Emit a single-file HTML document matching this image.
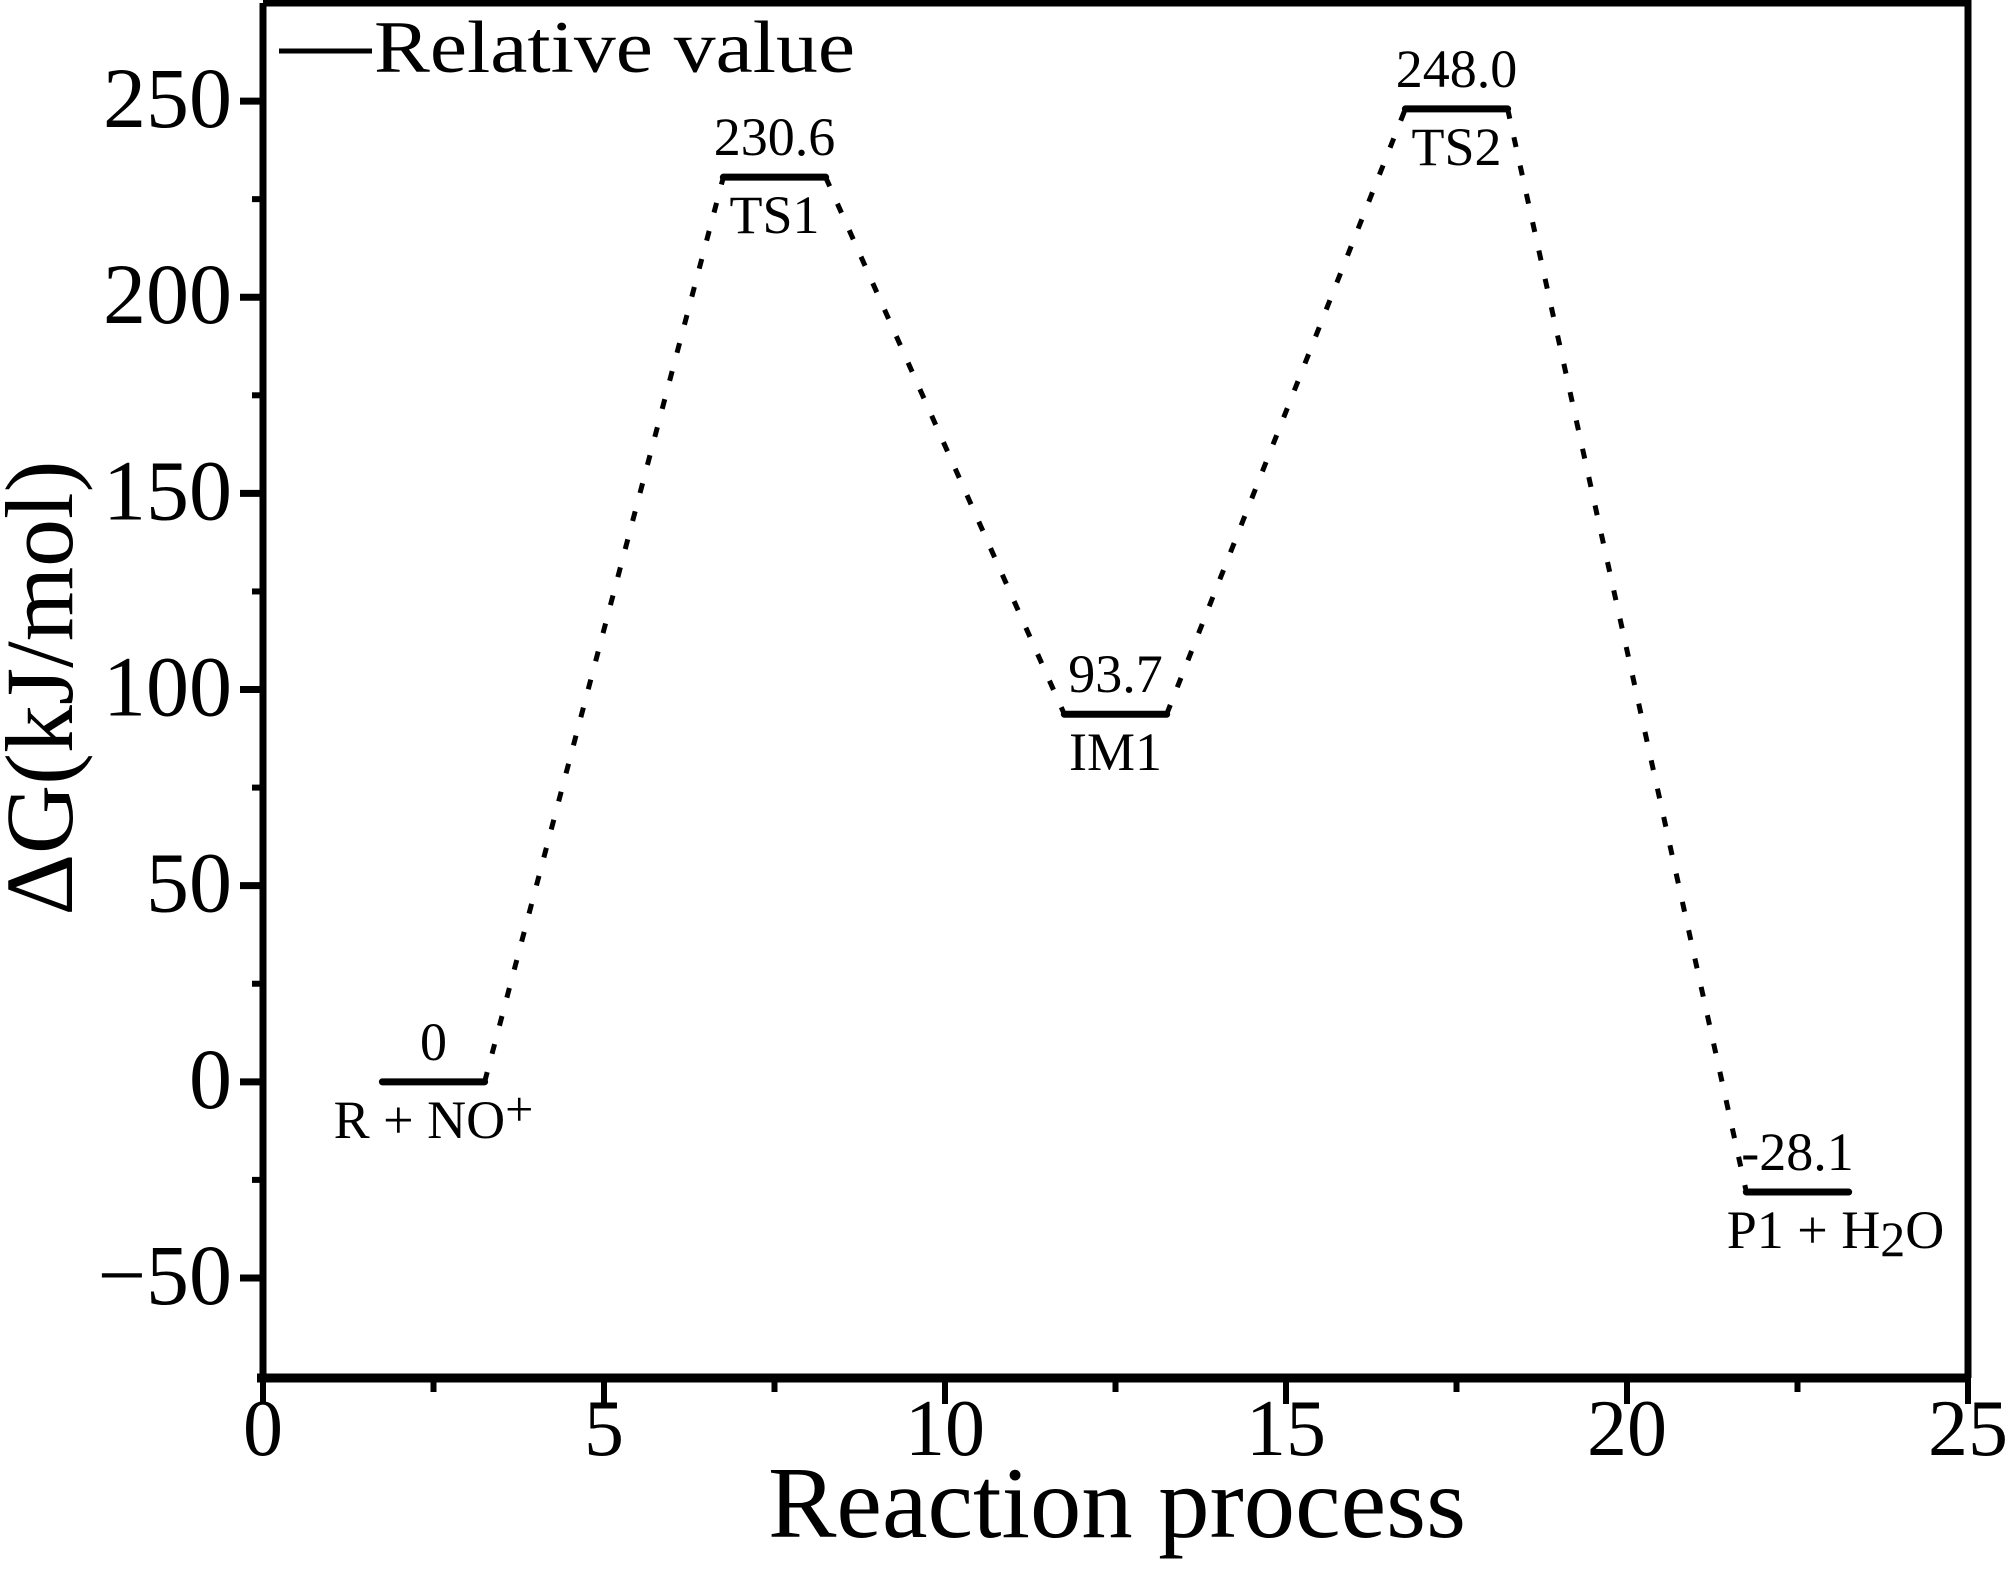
<!DOCTYPE html>
<html><head><meta charset="utf-8"><style>
html,body{margin:0;padding:0;background:#fff}
svg{display:block}
text{font-family:"Liberation Serif",serif;fill:#000}
</style></head><body>
<svg id="chart" width="2008" height="1594" viewBox="0 0 2008 1594">
<g id="plot"></g>
<text x="1117" y="1537" font-size="102" text-anchor="middle" textLength="698" lengthAdjust="spacingAndGlyphs">Reaction process</text>
<text transform="translate(72,688) rotate(-90)" font-size="96" text-anchor="middle" textLength="455" lengthAdjust="spacingAndGlyphs">ΔG(kJ/mol)</text>
<g>
<line x1="279" y1="51" x2="372" y2="51" stroke="#000" stroke-width="5"/>
<text x="374" y="72" font-size="74" textLength="481" lengthAdjust="spacingAndGlyphs">Relative value</text>
</g>
</svg>
<script>
const stateNames = ["R + NO", "TS1", "IM1", "TS2", "P1 + H"];
const statePos = [2.5, 7.5, 12.5, 17.5, 22.5];
const energies = [0, 230.6, 93.7, 248.0, -28.1];
const valueLabels = ["0", "230.6", "93.7", "248.0", "-28.1"];
const xTicks = [0, 5, 10, 15, 20, 25];
const yTicks = [-50, 0, 50, 100, 150, 200, 250];

const X0=263, X1=1968, Y0=3, Y1=1378;
const xMin=0, xMax=25, yMin=-75.5, yMax=275;
const xs = v => X0 + (v - xMin) / (xMax - xMin) * (X1 - X0);
const ys = v => Y1 - (v - yMin) / (yMax - yMin) * (Y1 - Y0);
const NS = "http://www.w3.org/2000/svg";
const plot = document.getElementById('plot');
function mk(tag, attrs, parent) {
  const e = document.createElementNS(NS, tag);
  for (const k in attrs) e.setAttribute(k, attrs[k]);
  (parent || plot).appendChild(e);
  return e;
}
const half = 0.75;
for (let i = 0; i < energies.length - 1; i++) {
  const l = mk('line', {x1: xs(statePos[i] + half), y1: ys(energies[i]), x2: xs(statePos[i+1] - half), y2: ys(energies[i+1]), stroke: '#000', 'stroke-width': 5, 'stroke-dasharray': '10 19'});
  
  
}
for (let i = 0; i < energies.length; i++) {
  const y = ys(energies[i]);
  const b = mk('line', {x1: xs(statePos[i] - half), y1: y, x2: xs(statePos[i] + half), y2: y, stroke: '#000', 'stroke-width': 7, 'stroke-linecap': 'round'});
  
  
  const cx = xs(statePos[i]);
  const v = mk('text', {x: cx, y: y - 22, 'font-size': 54, 'text-anchor': 'middle'});
  v.textContent = valueLabels[i];
  
  
  const n = mk('text', {x: cx + (i === 4 ? 38 : 0), y: y + 56, 'font-size': 54, 'text-anchor': 'middle'});
  n.textContent = stateNames[i];
  if (i === 0) { const s = mk('tspan', {'font-size': 50, dy: -12}, n); s.textContent = '+'; }
  if (i === 4) { const s = mk('tspan', {'font-size': 50, dy: 8}, n); s.textContent = '2'; const s2 = mk('tspan', {dy: -8}, n); s2.textContent = 'O'; }
  
  
}
const ax = mk('path', {d: `M${X0},${Y0} H${X1} V${Y1} M${X0},${Y0} V${Y1}`, fill: 'none', stroke: '#000', 'stroke-width': 7});


const bx = mk('line', {x1: X0 - 6, y1: Y1, x2: X1 + 3, y2: Y1, stroke: '#000', 'stroke-width': 9});


for (const t of yTicks) {
  const y = ys(t);
  const tk = mk('line', {x1: X0 - 23, y1: y, x2: X0, y2: y, stroke: '#000', 'stroke-width': 7});
  
  
  const lb = mk('text', {x: 232, y: y + 26, 'font-size': 86, 'text-anchor': 'end'});
  lb.textContent = t < 0 ? '−' + Math.abs(t) : String(t);
  
  
  if (t + 25 < yMax) {
    const m = ys(t + 25);
    const mt = mk('line', {x1: X0 - 11, y1: m, x2: X0, y2: m, stroke: '#000', 'stroke-width': 6});
    
    
  }
}
for (const t of xTicks) {
  const x = xs(t);
  const tk = mk('line', {x1: x, y1: Y1, x2: x, y2: Y1 + 26, stroke: '#000', 'stroke-width': 6});
  
  
  const lb = mk('text', {x: x, y: 1455, 'font-size': 80, 'text-anchor': 'middle'});
  lb.textContent = String(t);
  
  
  if (t + 2.5 < xMax) {
    const m = xs(t + 2.5);
    const mt = mk('line', {x1: m, y1: Y1, x2: m, y2: Y1 + 14, stroke: '#000', 'stroke-width': 6});
    
    
  }
}
</script>
</body></html>
